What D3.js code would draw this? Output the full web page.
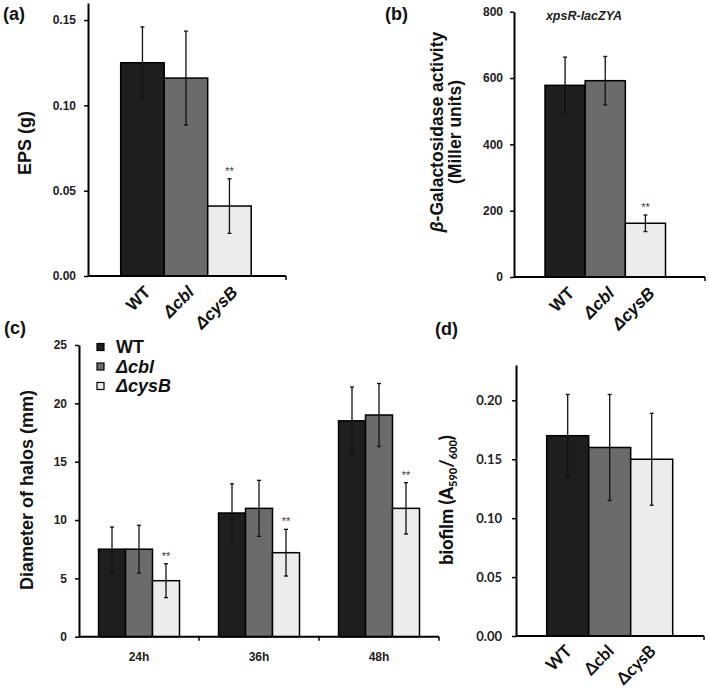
<!DOCTYPE html>
<html>
<head>
<meta charset="utf-8">
<script src="https://cdn.jsdelivr.net/npm/d3@7"></script>
<style>
  body { margin: 0; background: #fff; }
  svg { display: block; }
  text { font-family: "Liberation Sans", Arial, sans-serif; font-weight: bold; }
</style>
</head>
<body>
<svg id="chart" width="709" height="693"></svg>
<script>
// ---------- DATA ----------
const strains = ["WT", "Δcbl", "ΔcysB"];
const strainItalic = [false, true, true];

const epsValues = [0.125, 0.116, 0.041];
const epsErrors = [0.021, 0.0275, 0.016];
const epsSig = [false, false, true];
const epsTicks = [0, 0.05, 0.10, 0.15];

const galValues = [578, 592, 162];
const galErrors = [85, 73, 25];
const galSig = [false, false, true];
const galTicks = [0, 200, 400, 600, 800];

const timePoints = ["24h", "36h", "48h"];
const haloWT = [7.5, 10.6, 18.5];
const haloWTErr = [1.9, 2.5, 2.9];
const haloCbl = [7.5, 11.0, 19.0];
const haloCblErr = [2.05, 2.4, 2.7];
const haloCysB = [4.8, 7.2, 11.0];
const haloCysBErr = [1.45, 2.0, 2.2];
const haloSig = [true, true, true];
const haloTicks = [0, 5, 10, 15, 20, 25];

const biofilmValues = [0.17, 0.16, 0.15];
const biofilmErrors = [0.035, 0.045, 0.039];
const biofilmTicks = [0, 0.05, 0.10, 0.15, 0.20];

const colors = ["#1e1e1e", "#6b6b6b", "#ececec"];

// ---------- DRAW ----------
const svg = d3.select("#chart");

function errorBar(g, x, yTop, yBot, cap) {
  g.append("line").attr("x1", x).attr("x2", x).attr("y1", yTop).attr("y2", yBot)
    .attr("stroke", "#111").attr("stroke-width", 1.3);
  [yTop, yBot].forEach(yy => g.append("line")
    .attr("x1", x - cap).attr("x2", x + cap).attr("y1", yy).attr("y2", yy)
    .attr("stroke", "#111").attr("stroke-width", 1.3));
}

function stars(g, x, yy) {
  g.append("text").attr("x", x).attr("y", yy)
    .attr("text-anchor", "middle").attr("fill", "#3a3a3a")
    .style("font-size", "11px").style("font-weight", "normal").text("**");
}

function yAxis(g, y, x0, ticks, fmt, font, fontSize, padding) {
  const ax = d3.axisLeft(y).tickValues(ticks).tickFormat(fmt).tickSize(4).tickSizeOuter(0).tickPadding(padding);
  const a = g.append("g").attr("transform", `translate(${x0},0)`).call(ax);
  a.select(".domain").attr("stroke", "#000").attr("stroke-width", 2);
  a.selectAll(".tick line").attr("stroke", "#000").attr("stroke-width", 1.5);
  a.selectAll(".tick text").attr("fill", "#222").style("font-family", font)
    .style("font-size", fontSize + "px").style("font-weight", "bold");
}

function simplePanel(p) {
  const g = svg.append("g");
  const y = d3.scaleLinear().domain(p.domain).range([p.y0, p.yTop]);
  const x = d3.scaleBand().domain(strains).range(p.band).padding(0);
  g.selectAll("rect.bar").data(p.values).enter().append("rect")
    .attr("x", (d, i) => x(strains[i]))
    .attr("y", d => y(d))
    .attr("width", x.bandwidth())
    .attr("height", d => y(0) - y(d))
    .attr("fill", (d, i) => colors[i])
    .attr("stroke", "#000").attr("stroke-width", 1.5);
  p.values.forEach((v, i) => {
    const cx = x(strains[i]) + x.bandwidth() / 2;
    errorBar(g, cx, y(v + p.errors[i]), y(v - p.errors[i]), 2);
    if (p.sig && p.sig[i]) stars(g, cx, y(v + p.errors[i]) - 4);
  });
  yAxis(g, y, p.x0, p.ticks, p.fmt, p.font, p.tickFont, p.tickPad);
  g.append("line").attr("x1", p.x0).attr("x2", p.x1).attr("y1", p.y0).attr("y2", p.y0)
    .attr("stroke", "#000").attr("stroke-width", 2);
  g.append("line").attr("x1", p.x1).attr("x2", p.x1).attr("y1", p.y0).attr("y2", p.y0 + 4)
    .attr("stroke", "#000").attr("stroke-width", 1.5);
  strains.forEach((s, i) => {
    const cx = x(s) + x.bandwidth() / 2;
    g.append("text")
      .attr("transform", `translate(${cx + p.lblDx},${p.y0 + p.lblDy}) rotate(-45)`)
      .attr("text-anchor", "end").attr("dy", "0.35em")
      .style("font-family", p.font).style("font-size", p.lblFont + "px")
      .style("font-style", (p.italic && strainItalic[i]) ? "italic" : "normal")
      .attr("fill", "#111").text(s);
  });
  return g;
}

const arial = "Liberation Sans, Arial, sans-serif";
const calibri = "Lato, Carlito, sans-serif";

// Panel (a)
simplePanel({
  values: epsValues, errors: epsErrors, sig: epsSig, ticks: epsTicks,
  domain: [0, 0.16], y0: 276, yTop: 3, x0: 88, x1: 286, band: [120.7, 251.2],
  fmt: d3.format(".2f"), font: arial, tickFont: 12, tickPad: 8,
  lblDx: 5, lblDy: 13, lblFont: 17, italic: true
});
// Panel (b)
simplePanel({
  values: galValues, errors: galErrors, sig: galSig, ticks: galTicks,
  domain: [0, 800], y0: 277, yTop: 11.7, x0: 514, x1: 705, band: [545, 665.5],
  fmt: d3.format("d"), font: arial, tickFont: 12, tickPad: 7,
  lblDx: 6, lblDy: 13, lblFont: 17, italic: true
});
// Panel (d)
simplePanel({
  values: biofilmValues, errors: biofilmErrors, sig: null, ticks: biofilmTicks,
  domain: [0, 0.23], y0: 636, yTop: 365, x0: 516, x1: 704, band: [546.7, 672.7],
  fmt: d3.format(".2f"), font: calibri, tickFont: 13, tickPad: 10,
  lblDx: 1, lblDy: 12, lblFont: 17, italic: false
});

// Panel (c) grouped
(function () {
  const g = svg.append("g");
  const y0 = 636.7, yTop = 345, x0 = 79, x1 = 439;
  const y = d3.scaleLinear().domain([0, 25]).range([y0, yTop]);
  const xg = d3.scaleBand().domain(timePoints).range([x0, x1]).padding(0);
  const xs = d3.scaleBand().domain(strains).range([19.5, 100.5]).padding(0);
  const series = [
    { v: haloWT, e: haloWTErr },
    { v: haloCbl, e: haloCblErr },
    { v: haloCysB, e: haloCysBErr }
  ];
  series.forEach((s, si) => {
    s.v.forEach((v, ti) => {
      const bx = xg(timePoints[ti]) + xs(strains[si]);
      g.append("rect").attr("x", bx).attr("y", y(v)).attr("width", xs.bandwidth())
        .attr("height", y(0) - y(v)).attr("fill", colors[si])
        .attr("stroke", "#000").attr("stroke-width", 1.5);
    });
  });
  series.forEach((s, si) => {
    s.v.forEach((v, ti) => {
      const cx = xg(timePoints[ti]) + xs(strains[si]) + xs.bandwidth() / 2;
      errorBar(g, cx, y(v + s.e[ti]), y(v - s.e[ti]), 2);
      if (si === 2 && haloSig[ti]) stars(g, cx, y(v + s.e[ti]) - 4);
    });
  });
  yAxis(g, y, x0, haloTicks, d3.format("d"), arial, 12, 8);
  g.append("line").attr("x1", x0).attr("x2", x1).attr("y1", y0).attr("y2", y0)
    .attr("stroke", "#000").attr("stroke-width", 2);
  timePoints.forEach(t => {
    const xe = xg(t) + xg.bandwidth();
    g.append("line").attr("x1", xe).attr("x2", xe).attr("y1", y0).attr("y2", y0 + 4)
      .attr("stroke", "#000").attr("stroke-width", 1.5);
    g.append("text").attr("x", xg(t) + xg.bandwidth() / 2).attr("y", y0 + 24)
      .attr("text-anchor", "middle").attr("fill", "#222").style("font-size", "12px").text(t);
  });
  strains.forEach((s, i) => {
    const ly = 347 + i * 19.5;
    g.append("rect").attr("x", 97).attr("y", ly - 3.5).attr("width", 7).attr("height", 7)
      .attr("fill", colors[i]).attr("stroke", "#000").attr("stroke-width", 1.2);
    g.append("text").attr("x", 116).attr("y", ly).attr("dy", "0.36em")
      .style("font-size", "18px").style("font-style", strainItalic[i] ? "italic" : "normal")
      .attr("fill", "#111").text(s);
  });
  g.append("text").attr("transform", "translate(33,490) rotate(-90)")
    .attr("text-anchor", "middle").style("font-size", "18px").attr("fill", "#111")
    .text("Diameter of halos (mm)");
})();

// Axis titles & panel letters
svg.append("text").attr("transform", "translate(31,143) rotate(-90)")
  .attr("text-anchor", "middle").style("font-size", "18px").attr("fill", "#111").text("EPS (g)");

const bl = svg.append("text").attr("transform", "translate(443,132) rotate(-90)")
  .attr("text-anchor", "middle").style("font-size", "17.5px").attr("fill", "#111");
bl.append("tspan").style("font-style", "italic").text("β");
bl.append("tspan").text("-Galactosidase activity");
svg.append("text").attr("transform", "translate(461,132) rotate(-90)")
  .attr("text-anchor", "middle").style("font-size", "17.5px").attr("fill", "#111").text("(Miller units)");

svg.append("text").attr("x", 584).attr("y", 20).attr("text-anchor", "middle")
  .style("font-size", "12.5px").style("font-style", "italic").attr("fill", "#222").text("xpsR-lacZYA");

const bf = svg.append("text").attr("transform", "translate(453,500) rotate(-90)")
  .attr("text-anchor", "middle").style("font-family", calibri).style("font-size", "18px")
  .style("font-weight", "900").attr("fill", "#111");
bf.append("tspan").text("biofilm  (A");
bf.append("tspan").attr("dy", 4).style("font-size", "11px").text("590");
bf.append("tspan").attr("dy", -4).text("/");
bf.append("tspan").attr("dy", 4).style("font-size", "11px").text("600");
bf.append("tspan").attr("dy", -4).text(")");

[["(a)", 3, 20], ["(b)", 385, 20], ["(c)", 4, 334], ["(d)", 435, 335]].forEach(([t, x, yy]) => {
  svg.append("text").attr("x", x).attr("y", yy).style("font-size", "18px").attr("fill", "#111").text(t);
});
</script>
</body>
</html>
